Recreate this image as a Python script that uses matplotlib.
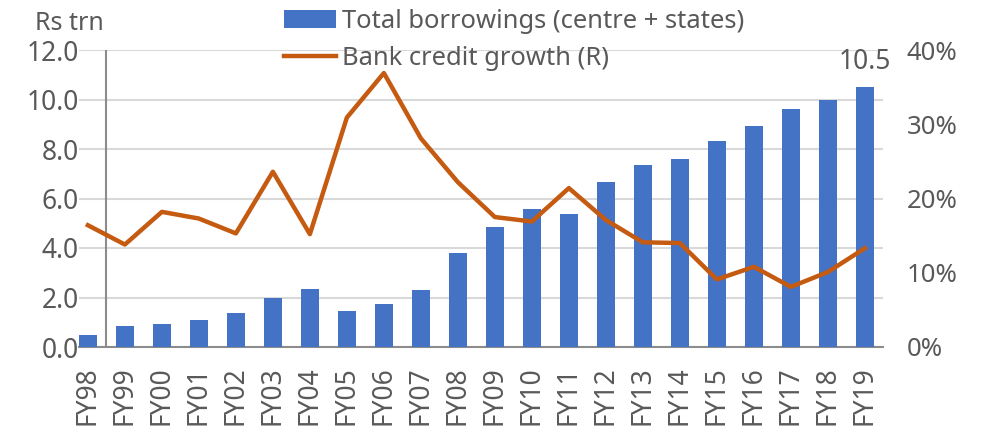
import matplotlib
matplotlib.use("Agg")
import matplotlib.pyplot as plt
from matplotlib.ticker import FuncFormatter

years = ["FY98", "FY99", "FY00", "FY01", "FY02", "FY03", "FY04", "FY05", "FY06", "FY07",
         "FY08", "FY09", "FY10", "FY11", "FY12", "FY13", "FY14", "FY15", "FY16", "FY17",
         "FY18", "FY19"]
borrowings = [0.48, 0.84, 0.94, 1.10, 1.38, 1.96, 2.35, 1.45, 1.73, 2.30,
              3.79, 4.84, 5.56, 5.39, 6.67, 7.37, 7.58, 8.32, 8.92, 9.61,
              10.0, 10.5]
credit_growth = [16.4, 13.8, 18.2, 17.3, 15.3, 23.6, 15.2, 30.9, 36.9, 28.1,
                 22.2, 17.5, 16.9, 21.4, 17.1, 14.1, 14.0, 9.1, 10.8, 8.1,
                 10.1, 13.3]
left_ticks = [0, 2, 4, 6, 8, 10, 12]
right_ticks = [0, 10, 20, 30, 40]

BLUE = "#4472C4"
ORANGE = "#C55A11"
GREY_TXT = "#595959"
GRID = "#D9D9D9"
AXIS = "#8C8C8C"

plt.rcParams['font.family'] = ['Noto Sans', 'DejaVu Sans']

W, H = 984, 428
fig = plt.figure(figsize=(W / 100, H / 100), dpi=100)
L, R, B, T = 79, 883, 347, 50
ax = fig.add_axes([L / W, (H - B) / H, (R - L) / W, (B - T) / H])
x = list(range(len(years)))

ax.bar(x, borrowings, width=0.5, color=BLUE, zorder=3, label="Total borrowings (centre + states)")
ax.set_ylim(0, 12)
ax.set_xlim(-0.24, len(years) - 1 + 0.49)
ax.set_yticks(left_ticks)
ax.yaxis.set_major_formatter(FuncFormatter(lambda v, p: f"{v:.1f}"))
ax.grid(axis='y', color=GRID, linewidth=1.5, zorder=0)
ax.set_axisbelow(True)
ax.set_xticks(x)
ax.set_xticklabels(years, rotation=90)
for s in ["top", "right", "left"]:
    ax.spines[s].set_visible(False)
ax.spines["bottom"].set_color(AXIS)
ax.spines["bottom"].set_linewidth(1.5)
ax.axvline(0.5, color=AXIS, linewidth=1.5, zorder=2)
ax.tick_params(axis='both', length=0, colors=GREY_TXT)
ax.tick_params(axis='x', pad=14, labelsize=19)
ax.tick_params(axis='y', pad=0, labelsize=19)

ax2 = ax.twinx()
ax2.plot(x, credit_growth, color=ORANGE, linewidth=3.2, zorder=4, label="Bank credit growth (R)")
ax2.set_ylim(0, 40)
ax2.set_yticks(right_ticks)
ax2.yaxis.set_major_formatter(FuncFormatter(lambda v, p: f"{v:.0f}%"))
for s in ["top", "right", "left", "bottom"]:
    ax2.spines[s].set_visible(False)
ax2.tick_params(axis='y', length=0, colors=GREY_TXT, labelsize=18.5, pad=17)

ax.annotate(f"{borrowings[-1]:.1f}", (x[-1], borrowings[-1]), xytext=(0, 8),
            textcoords="offset points", ha="center", va="bottom", fontsize=19, color=GREY_TXT)

fig.text(35 / W, (H - 24) / H, "Rs trn", fontsize=18, color=GREY_TXT, va="center", ha="left")

h1, l1 = ax.get_legend_handles_labels()
h2, l2 = ax2.get_legend_handles_labels()
leg = fig.legend(h1 + h2, l1 + l2, loc="upper left", bbox_to_anchor=(284 / W, 1 - 9 / H),
                 frameon=False, fontsize=18.4, handlelength=2.05, handletextpad=0.2,
                 labelspacing=0.47, borderaxespad=0, borderpad=0)
for t in leg.get_texts():
    t.set_color(GREY_TXT)

fig.savefig("out.png", dpi=100)
